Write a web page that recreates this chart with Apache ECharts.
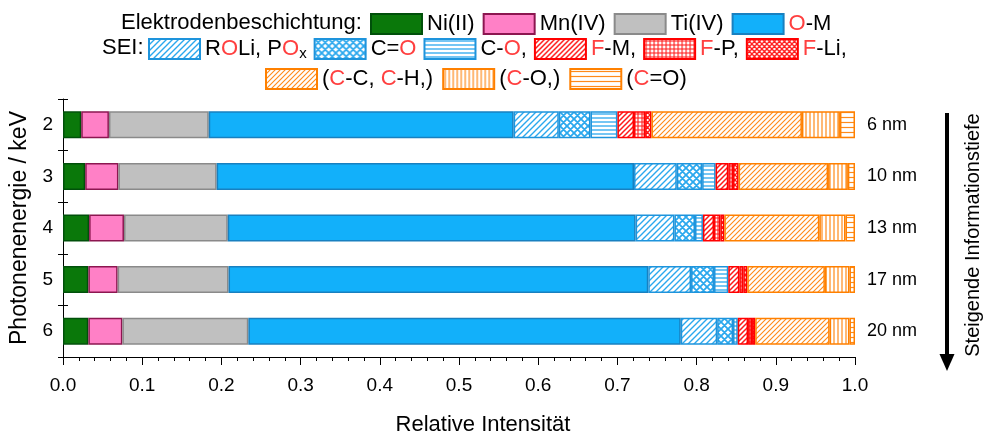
<!DOCTYPE html>
<html>
<head>
<meta charset="utf-8">
<script src="https://cdn.jsdelivr.net/npm/echarts@6/dist/echarts.min.js"></script>
<style>html,body{margin:0;padding:0;background:#fff;}#c{width:986px;height:441px;}</style>
</head>
<body>
<div id="c"></div>
<script>
// ---- data ----
const categories = ['2', '3', '4', '5', '6'];
const depthLabels = ['6 nm', '10 nm', '13 nm', '17 nm', '20 nm'];
const xTickLabels = ['0.0','0.1','0.2','0.3','0.4','0.5','0.6','0.7','0.8','0.9','1.0'];
const niII   = [0.023, 0.028, 0.033, 0.032, 0.032];
const mnIV   = [0.035, 0.042, 0.044, 0.037, 0.043];
const tiIV   = [0.126, 0.124, 0.131, 0.140, 0.159];
const oM     = [0.385, 0.527, 0.515, 0.530, 0.546];
const roli   = [0.057, 0.054, 0.049, 0.054, 0.046];
const cdoB   = [0.040, 0.032, 0.026, 0.029, 0.020];
const coB    = [0.034, 0.017, 0.010, 0.018, 0.006];
const fM     = [0.021, 0.016, 0.014, 0.014, 0.013];
const fP     = [0.014, 0.006, 0.008, 0.005, 0.005];
const fLi    = [0.008, 0.007, 0.005, 0.005, 0.004];
const ccO    = [0.190, 0.113, 0.120, 0.098, 0.094];
const coO    = [0.048, 0.025, 0.033, 0.031, 0.025];
const cdoO   = [0.019, 0.009, 0.012, 0.007, 0.007];

const FONT = 'Liberation Sans, Arial, sans-serif';

function pat(kind, color, size, lw) {
  const c = document.createElement('canvas');
  c.width = size; c.height = size;
  const g = c.getContext('2d');
  g.fillStyle = '#fff'; g.fillRect(0, 0, size, size);
  g.strokeStyle = color; g.lineWidth = lw;
  g.beginPath();
  if (kind === 'diag' || kind === 'cross') {
    g.moveTo(-1, size + 1); g.lineTo(size + 1, -1);
    g.moveTo(-2, 2); g.lineTo(2, -2);
    g.moveTo(size - 2, size + 2); g.lineTo(size + 2, size - 2);
  }
  if (kind === 'cross') {
    g.moveTo(-1, -1); g.lineTo(size + 1, size + 1);
    g.moveTo(size - 2, -2); g.lineTo(size + 2, 2);
    g.moveTo(-2, size - 2); g.lineTo(2, size + 2);
  }
  if (kind === 'h' || kind === 'grid') { g.moveTo(0, size / 2); g.lineTo(size, size / 2); }
  if (kind === 'v' || kind === 'grid') { g.moveTo(size / 2, 0); g.lineTo(size / 2, size); }
  g.stroke();
  return { image: c, repeat: 'repeat' };
}

const BLUE = '#2aa8ee', RED = '#ff1a1a', ORANGE = '#ff8a1a';

const seriesDefs = [
  { name: 'Ni(II)', data: niII, color: '#0a780a', border: '#00500a' },
  { name: 'Mn(IV)', data: mnIV, color: '#ff80c6', border: '#8c1650' },
  { name: 'Ti(IV)', data: tiIV, color: '#c0c0c0', border: '#8a8a8a' },
  { name: 'O-M', data: oM, color: '#12b0fa', border: '#1880c0' },
  { name: 'ROLi, POx', data: roli, color: pat('diag', BLUE, 6, 1.4), border: '#1e94dc' },
  { name: 'C=O', data: cdoB, color: pat('cross', BLUE, 7, 1.8), border: '#1e94dc' },
  { name: 'C-O,', data: coB, color: pat('h', BLUE, 4, 1.3), border: '#1e94dc' },
  { name: 'F-M,', data: fM, color: pat('diag', RED, 5, 1.5), border: '#ff0000' },
  { name: 'F-P,', data: fP, color: pat('grid', RED, 4, 1.1), border: '#ff0000' },
  { name: 'F-Li,', data: fLi, color: pat('cross', RED, 5, 1.3), border: '#ff0000' },
  { name: '(C-C, C-H,)', data: ccO, color: pat('diag', ORANGE, 5, 1.1), border: '#ff8000' },
  { name: '(C-O,)', data: coO, color: pat('v', ORANGE, 4, 1.2), border: '#ff8000' },
  { name: '(C=O)', data: cdoO, color: pat('h', ORANGE, 5, 1.2), border: '#ff8000' }
];

const legendRich = {
  'Ni(II)': 'Ni(II)', 'Mn(IV)': 'Mn(IV)', 'Ti(IV)': 'Ti(IV)', 'O-M': '{r|O}-M',
  'ROLi, POx': 'R{r|O}Li, P{r|O}{s|x}', 'C=O': 'C={r|O}', 'C-O,': 'C-{r|O},',
  'F-M,': '{r|F}-M,', 'F-P,': '{r|F}-P,', 'F-Li,': '{r|F}-Li,',
  '(C-C, C-H,)': '({r|C}-C, {r|C}-H,)', '(C-O,)': '({r|C}-O,)', '(C=O)': '({r|C}=O)'
};

const legendBase = {
  orient: 'horizontal', icon: 'rect', itemWidth: 51, itemHeight: 20,
  padding: 0, selectedMode: false,
  formatter: n => legendRich[n],
  textStyle: {
    fontFamily: FONT, fontSize: 22, color: '#000',
    rich: {
      r: { fontFamily: FONT, fontSize: 22, color: '#ff4040' },
      s: { fontFamily: FONT, fontSize: 15, color: '#000', verticalAlign: 'bottom', padding: [9, 0, 0, 0] }
    }
  }
};

const chart = echarts.init(document.getElementById('c'), null, { renderer: 'canvas' });
chart.setOption({
  animation: false,
  backgroundColor: '#fff',
  grid: { left: 63, right: 131, top: 99, height: 264 },
  legend: [
    Object.assign({}, legendBase, { left: 370, top: 13, itemGap: 8, data: ['Ni(II)', 'Mn(IV)', 'Ti(IV)', 'O-M'] }),
    Object.assign({}, legendBase, { left: 148, top: 38, itemGap: 7, data: ['ROLi, POx', 'C=O', 'C-O,', 'F-M,', 'F-P,', 'F-Li,'] }),
    Object.assign({}, legendBase, { left: 265, top: 68, itemGap: 9, data: ['(C-C, C-H,)', '(C-O,)', '(C=O)'] })
  ],
  graphic: [
    { type: 'text', x: 121, y: 23, style: { text: 'Elektrodenbeschichtung:', fontFamily: FONT, fontSize: 22, fill: '#000', verticalAlign: 'middle' } },
    { type: 'text', x: 102, y: 48, style: { text: 'SEI:', fontFamily: FONT, fontSize: 22, fill: '#000', verticalAlign: 'middle' } },
    { type: 'line', shape: { x1: 947, y1: 113, x2: 947, y2: 358 }, style: { stroke: '#000', lineWidth: 4 } },
    { type: 'polygon', shape: { points: [[939.5, 354], [954.5, 354], [947, 371]] }, style: { fill: '#000' } },
    { type: 'text', x: 973, y: 235, rotation: Math.PI / 2, style: { text: 'Steigende Informationstiefe', fontFamily: FONT, fontSize: 20, fill: '#000', align: 'center', verticalAlign: 'middle' } }
  ],
  xAxis: {
    type: 'value', min: 0, max: 1, interval: 0.1,
    name: 'Relative Intensität', nameLocation: 'middle', nameGap: 57,
    nameTextStyle: { fontFamily: FONT, fontSize: 22, color: '#000', padding: [0, 0, 0, 48] },
    axisLine: { show: true, lineStyle: { color: '#000', width: 1 } },
    axisTick: { show: true, length: 8, lineStyle: { color: '#000', width: 1 } },
    minorTick: { show: true, splitNumber: 5, length: 4, lineStyle: { color: '#000', width: 1 } },
    splitLine: { show: false },
    axisLabel: { fontFamily: FONT, fontSize: 19, color: '#000', margin: 19,
      formatter: v => xTickLabels[Math.round(v * 10)] }
  },
  yAxis: [
    {
      type: 'category', inverse: true, data: categories, position: 'left',
      name: 'Photonenenergie / keV', nameLocation: 'middle', nameGap: 32,
      nameTextStyle: { fontFamily: FONT, fontSize: 23, color: '#000' },
      axisLine: { show: true, lineStyle: { color: '#000', width: 1 } },
      axisTick: { show: true, length: 5, lineStyle: { color: '#000' } },
      axisLabel: { fontFamily: FONT, fontSize: 19, color: '#000', margin: 10 },
      splitLine: { show: false }
    },
    {
      type: 'category', inverse: true, data: categories, position: 'left',
      axisLine: { show: false }, axisLabel: { show: false },
      axisTick: { show: true, inside: true, length: 5, lineStyle: { color: '#000' } },
      splitLine: { show: false }
    },
    {
      type: 'category', inverse: true, data: depthLabels, position: 'right',
      axisLine: { show: false }, axisTick: { show: false },
      axisLabel: { fontFamily: FONT, fontSize: 18, color: '#000', margin: 12 },
      splitLine: { show: false }
    }
  ],
  series: seriesDefs.map(s => ({
    name: s.name, type: 'bar', stack: 'total', yAxisIndex: 0, barWidth: 27,
    data: s.data,
    itemStyle: { color: s.color, borderColor: s.border, borderWidth: 1.5 },
    emphasis: { disabled: true }
  }))
});
</script>
</body>
</html>
